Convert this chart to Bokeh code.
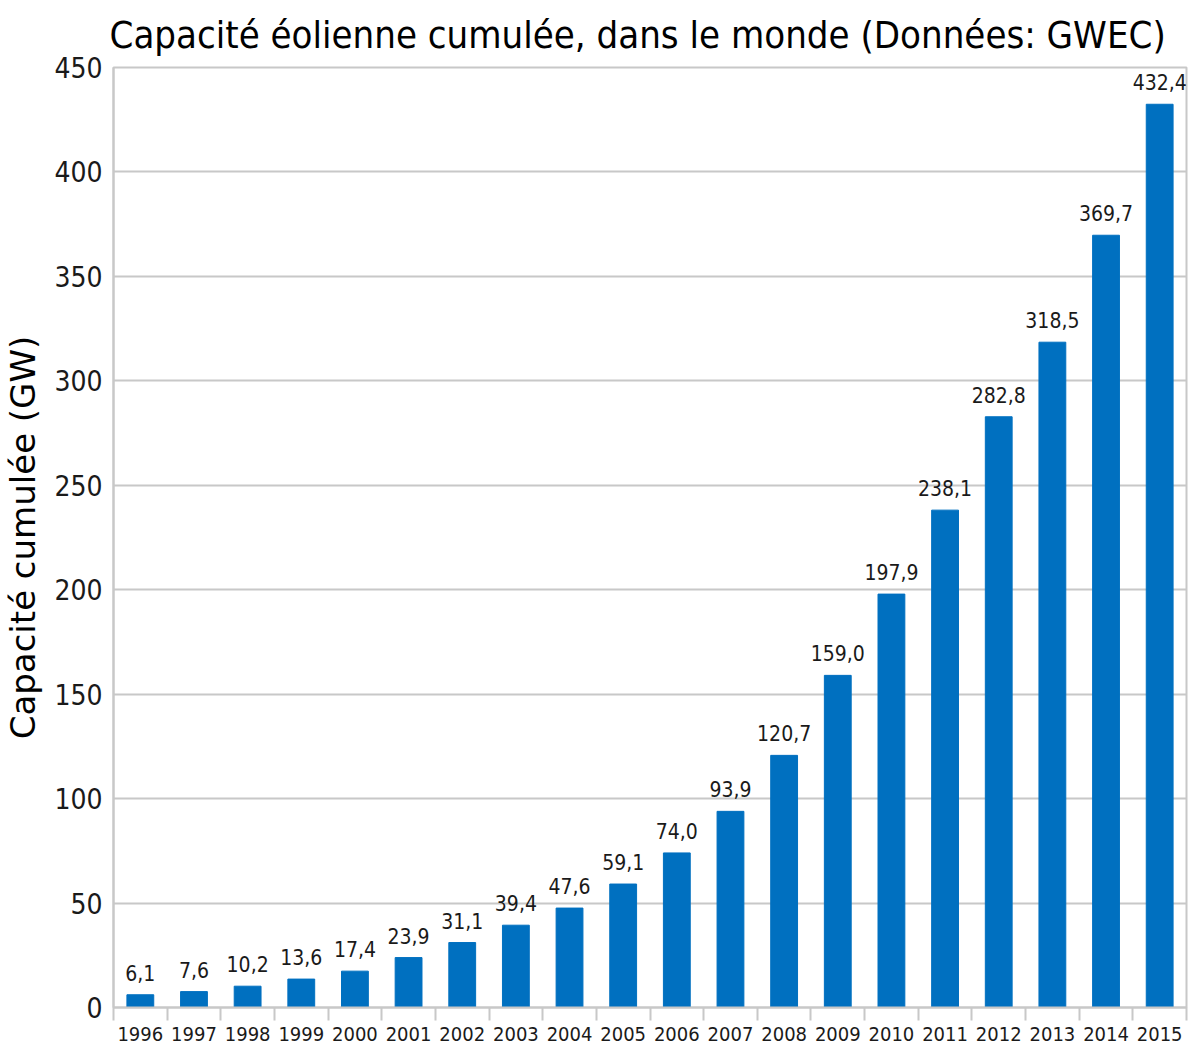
from bokeh.plotting import figure
from bokeh.models import ColumnDataSource, FixedTicker, Range1d
from bokeh.embed import file_html
from bokeh.resources import INLINE
from bokeh.core.properties import value

years = ["1996", "1997", "1998", "1999", "2000", "2001", "2002", "2003", "2004", "2005",
         "2006", "2007", "2008", "2009", "2010", "2011", "2012", "2013", "2014", "2015"]
capacity = [6.1, 7.6, 10.2, 13.6, 17.4, 23.9, 31.1, 39.4, 47.6, 59.1,
            74.0, 93.9, 120.7, 159.0, 197.9, 238.1, 282.8, 318.5, 369.7, 432.4]
y_ticks = [0, 50, 100, 150, 200, 250, 300, 350, 400, 450]

FONT = "DejaVu Sans Condensed"
xs = [i + 0.5 for i in range(len(years))]
labels = [f"{v:.1f}".replace(".", ",") for v in capacity]
src = ColumnDataSource(dict(x=xs, top=capacity, label=labels))

p = figure(width=1188, height=1043, output_backend="svg", toolbar_location=None,
           x_range=Range1d(0, len(years)), y_range=Range1d(0, 450),
           title="Capacité éolienne cumulée, dans le monde (Données: GWEC)",
           min_border_left=0, min_border_right=2, min_border_top=0, min_border_bottom=0)

p.title.text_font = FONT
p.title.text_font_size = "38px"
p.title.text_font_style = "normal"
p.title.text_color = "#000000"
p.title.offset = -4
p.title.standoff = 21

p.vbar(x="x", top="top", width=0.5, bottom=0, source=src, color="#0070C0")
p.text(x="x", y="top", text="label", source=src, text_align="center",
       text_baseline="alphabetic", y_offset=-22, text_font=value(FONT),
       text_font_size="21px", text_color="#1a1a1a")

# axes
xa = p.xaxis[0]
xa.ticker = FixedTicker(ticks=xs, minor_ticks=list(range(len(years) + 1)))
xa.major_label_overrides = {x: y for x, y in zip(xs, years)}
xa.major_tick_line_color = None
xa.minor_tick_line_color = "#c8c8c8"
xa.minor_tick_line_width = 2
xa.minor_tick_out = 13
xa.minor_tick_in = 0
xa.axis_line_color = "#c8c8c8"
xa.axis_line_width = 2
xa.major_label_text_font = FONT
xa.major_label_text_font_size = "20px"
xa.major_label_text_color = "#1a1a1a"
xa.major_label_standoff = 6

ya = p.yaxis[0]
ya.ticker = FixedTicker(ticks=y_ticks)
ya.major_tick_line_color = None
ya.minor_tick_line_color = None
ya.axis_line_color = "#c8c8c8"
ya.axis_line_width = 2
ya.major_label_text_font = FONT
ya.major_label_text_font_size = "28px"
ya.major_label_text_color = "#1a1a1a"
ya.major_label_standoff = 5
ya.axis_label = "Capacité cumulée (GW)"
ya.axis_label_text_font = "DejaVu Sans"
ya.axis_label_text_font_size = "34px"
ya.axis_label_text_font_style = "normal"
ya.axis_label_text_color = "#000000"
ya.axis_label_standoff = 8

p.xgrid.grid_line_color = None
p.ygrid.ticker = FixedTicker(ticks=y_ticks)
p.ygrid.grid_line_color = "#c8c8c8"
p.ygrid.grid_line_width = 2
p.outline_line_color = "#c8c8c8"
p.outline_line_width = 2

open("out.html", "w").write(file_html(p, INLINE))
